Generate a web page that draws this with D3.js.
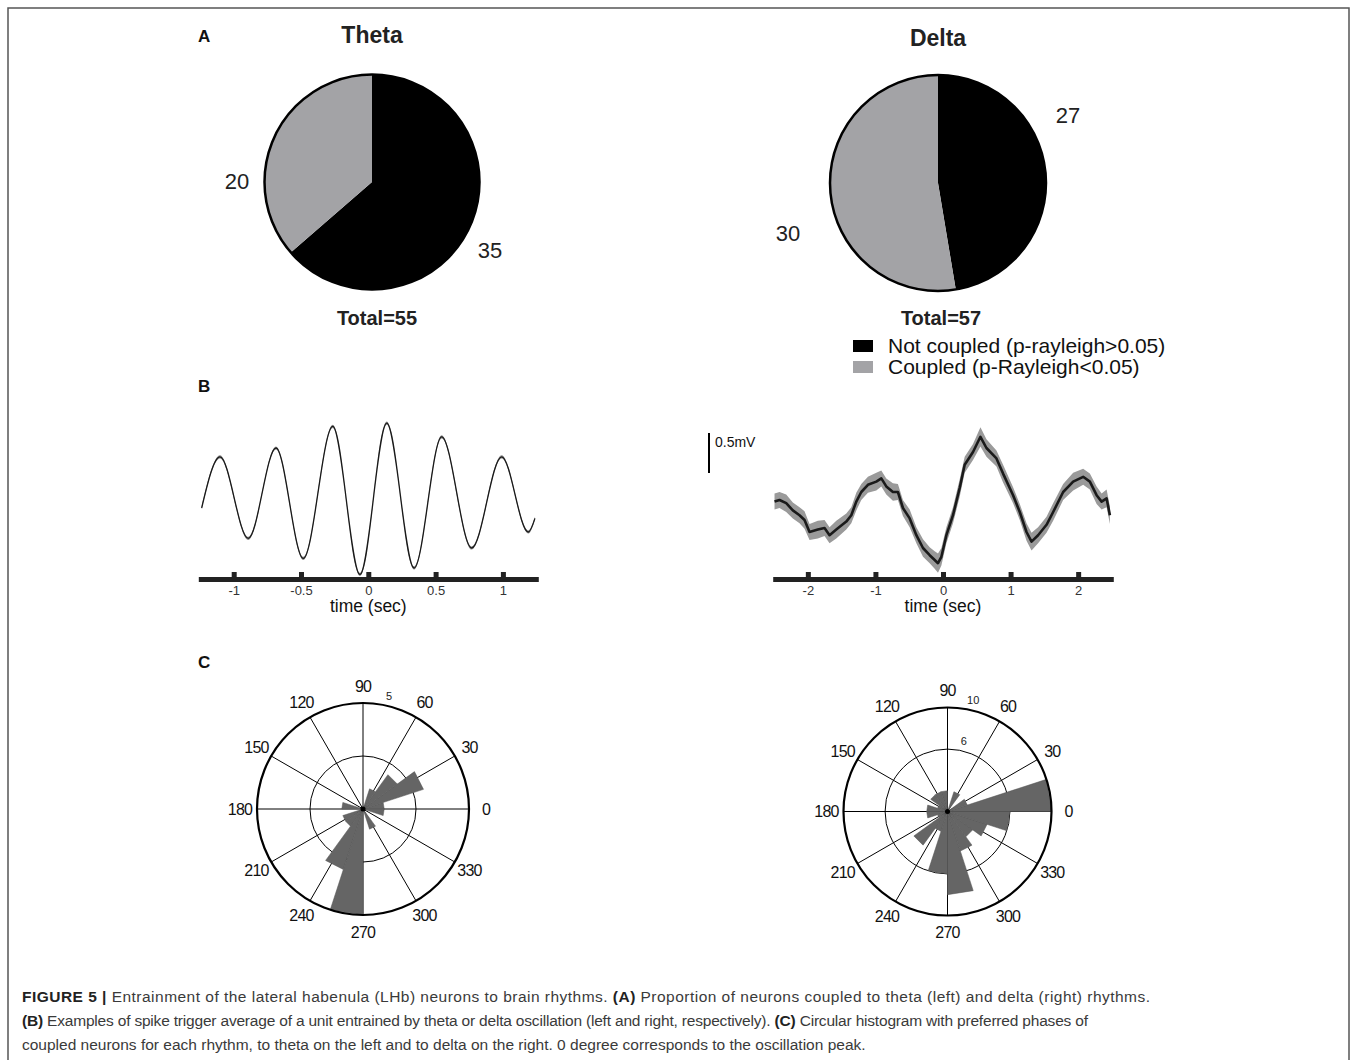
<!DOCTYPE html>
<html lang="en">
<head>
<meta charset="UTF-8">
<title>Figure 5 - LHb entrainment</title>
<style>
    body {
        margin: 0;
        padding: 0;
        background: #fff;
        font-family: "Liberation Sans", Arial, sans-serif;
    }
    .polar-label {
        font-size: 16px;
        letter-spacing: -0.8px;
        fill: #111;
    }
    .tick text {
        font-size: 13px;
        fill: #333;
    }
</style>
</head>
<body>
<svg id="fig" width="1357" height="1060"></svg>

<script src="https://d3js.org/d3.v7.min.js"></script>
<script>
// ---- data ----
const pieCategories = ["Not coupled (p-rayleigh>0.05)", "Coupled (p-Rayleigh<0.05)"];
const thetaCounts = [35, 20];
const deltaCounts = [27, 30];

// spike triggered averages (time in s, amplitude in mV)
const thetaTime = [-1.238, -1.102, -0.892, -0.686, -0.483, -0.264, -0.062, 0.137, 0.340, 0.545, 0.768, 0.991, 1.189, 1.238];
const thetaMv   = [0.00, 0.64, -0.38, 0.75, -0.63, 1.02, -0.83, 1.06, -0.75, 0.89, -0.50, 0.64, -0.30, -0.13];
const thetaSem  = [0.02, 0.02, 0.02, 0.02, 0.02, 0.02, 0.02, 0.02, 0.02, 0.02, 0.02, 0.02, 0.02, 0.02];

const deltaTime = [-2.493, -2.419, -2.320, -2.222, -2.123, -2.049, -1.975, -1.852, -1.753, -1.679, -1.579, -1.431,
                   -1.357, -1.283, -1.209, -1.111, -0.987, -0.913, -0.839, -0.741, -0.667, -0.593, -0.493, -0.394,
                   -0.296, -0.197, -0.123, -0.074, -0.024, 0.050, 0.148, 0.247, 0.321, 0.444, 0.554, 0.643, 0.791,
                   0.889, 1.037, 1.136, 1.236, 1.310, 1.407, 1.532, 1.630, 1.778, 1.926, 2.074, 2.173, 2.273, 2.347,
                   2.421, 2.470];
const deltaMv   = [-0.02, 0.00, -0.04, -0.13, -0.19, -0.25, -0.40, -0.37, -0.35, -0.44, -0.37, -0.27,
                   -0.19, -0.02, 0.10, 0.19, 0.23, 0.27, 0.17, 0.10, 0.10, -0.10, -0.23, -0.44,
                   -0.60, -0.69, -0.75, -0.79, -0.71, -0.44, -0.19, 0.15, 0.44, 0.60, 0.79, 0.65, 0.52,
                   0.33, 0.06, -0.15, -0.40, -0.52, -0.44, -0.31, -0.15, 0.10, 0.23, 0.29, 0.23, 0.06, -0.02,
                   0.02, -0.19];
const deltaSem  = [0.10, 0.10, 0.11, 0.10, 0.10, 0.11, 0.10, 0.11, 0.10, 0.10, 0.11, 0.10,
                   0.10, 0.11, 0.10, 0.10, 0.11, 0.10, 0.10, 0.11, 0.10, 0.10, 0.11, 0.10,
                   0.11, 0.10, 0.11, 0.12, 0.11, 0.10, 0.10, 0.11, 0.10, 0.10, 0.12, 0.11, 0.10,
                   0.11, 0.10, 0.10, 0.11, 0.11, 0.10, 0.10, 0.11, 0.10, 0.11, 0.10, 0.10, 0.11, 0.10,
                   0.11, 0.11];

const thetaTicks = [-1, -0.5, 0, 0.5, 1];
const thetaTickLabels = ["-1", "-0.5", "0", "0.5", "1"];
const deltaTicks = [-2, -1, 0, 1, 2];
const deltaTickLabels = ["-2", "-1", "0", "1", "2"];

// circular histograms, 20 bins of 18 degrees starting at 0
const roseEdges = d3.range(0, 361, 18);
const thetaRose = [1, 3, 2, 1, 0, 0, 0, 0, 0, 1, 0, 1, 1, 3, 5, 0, 1, 0, 0, 1];
const deltaRose = [10, 2, 0, 2, 0, 2, 2, 2, 1, 2, 2, 1, 4, 2, 6, 8, 4, 3, 4, 6];
const spokeAngles = [0, 30, 60, 90, 120, 150, 180, 210, 240, 270, 300, 330];
const spokeLabels = ["0", "30", "60", "90", "120", "150", "180", "210", "240", "270", "300", "330"];
const thetaRings = [2.5, 5];
const thetaRingLabels = ["", "5"];
const deltaRings = [6, 10];
const deltaRingLabels = ["6", "10"];

const captionLines = [
    [["FIGURE 5 | ", true], ["Entrainment of the lateral habenula (LHb) neurons to brain rhythms. ", false], ["(A)", true], [" Proportion of neurons coupled to theta (left) and delta (right) rhythms.", false]],
    [["(B)", true], [" Examples of spike trigger average of a unit entrained by theta or delta oscillation (left and right, respectively). ", false], ["(C)", true], [" Circular histogram with preferred phases of", false]],
    [["coupled neurons for each rhythm, to theta on the left and to delta on the right. 0 degree corresponds to the oscillation peak.", false]]
];
const captionWidths = [1128, 1066, null];

const pieColors = ["#000000", "#a3a3a6"];

const svg = d3.select("#fig");

// frame
svg.append("rect")
    .attr("x", 8).attr("y", 8)
    .attr("width", 1341).attr("height", 1080)
    .attr("fill", "none").attr("stroke", "#555").attr("stroke-width", 1.5);

// panel letters
[["A", 198, 42], ["B", 198, 392], ["C", 198, 668]].forEach(d => {
    svg.append("text").attr("x", d[1]).attr("y", d[2])
        .attr("font-size", 17).attr("font-weight", "bold").attr("fill", "#111")
        .text(d[0]);
});

// ---- A: pies ----
function drawPie(cx, cy, r, counts, title, titleY, labels, totalX) {
    const g = svg.append("g").attr("transform", `translate(${cx},${cy})`);
    const pie = d3.pie().sort(null).value(d => d);
    const arc = d3.arc().innerRadius(0).outerRadius(r);
    g.selectAll("path.slice")
        .data(pie(counts))
        .enter().append("path")
        .attr("class", "slice")
        .attr("d", arc)
        .attr("fill", (d, i) => pieColors[i]);
    g.append("circle").attr("r", r).attr("fill", "none")
        .attr("stroke", "#000").attr("stroke-width", 2.5);

    svg.append("text").attr("x", cx).attr("y", titleY)
        .attr("text-anchor", "middle").attr("font-size", 23).attr("font-weight", "bold").attr("fill", "#222")
        .text(title);

    labels.forEach((p, i) => {
        svg.append("text").attr("x", p[0]).attr("y", p[1])
            .attr("text-anchor", "middle").attr("font-size", 22).attr("fill", "#222")
            .text(counts[i]);
    });

    svg.append("text").attr("x", totalX).attr("y", 325)
        .attr("text-anchor", "middle").attr("font-size", 20).attr("font-weight", "bold").attr("fill", "#222")
        .text("Total=" + d3.sum(counts));
}

drawPie(372, 182, 107.5, thetaCounts, "Theta", 43, [[490, 258], [237, 189]], 377);
drawPie(938, 183, 108, deltaCounts, "Delta", 46, [[1068, 123], [788, 241]], 941);

// legend
const legend = svg.append("g").attr("transform", "translate(853,340)");
pieCategories.forEach((c, i) => {
    legend.append("rect").attr("x", 0).attr("y", i * 21).attr("width", 20).attr("height", 12)
        .attr("fill", pieColors[i]);
    legend.append("text").attr("x", 35).attr("y", i * 21 + 13)
        .attr("font-size", 21).attr("fill", "#111")
        .text(c);
});

// ---- B: traces ----
function drawTrace(times, mv, sem, domain, xRange, yZero, ticks, tickLabels, lineW, bandColor, curve) {
    const x = d3.scaleLinear().domain(domain).range(xRange);
    const y = d3.scaleLinear().domain([0, 1]).range([yZero, yZero - 80]);
    const pts = times.map((t, i) => ({t: t, v: mv[i], s: sem[i]}));

    const area = d3.area()
        .x(d => x(d.t))
        .y0(d => y(d.v - d.s))
        .y1(d => y(d.v + d.s))
        .curve(curve);
    const line = d3.line()
        .x(d => x(d.t))
        .y(d => y(d.v))
        .curve(curve);

    svg.append("path").datum(pts).attr("d", area).attr("fill", bandColor);
    svg.append("path").datum(pts).attr("d", line)
        .attr("fill", "none").attr("stroke", "#1a1a1a").attr("stroke-width", lineW)
        .attr("stroke-linejoin", "round");

    const axis = d3.axisBottom(x)
        .tickValues(ticks)
        .tickFormat((d, i) => tickLabels[i])
        .tickSizeInner(-7)
        .tickSizeOuter(0)
        .tickPadding(7);
    const ga = svg.append("g").attr("transform", "translate(0,579)").call(axis);
    ga.select(".domain").attr("stroke", "#222").attr("stroke-width", 5);
    ga.selectAll(".tick line").attr("stroke", "#222").attr("stroke-width", 5);
    ga.selectAll(".tick text").attr("font-family", "'Liberation Sans', Arial, sans-serif");

    svg.append("text").attr("x", x(0)).attr("y", 612)
        .attr("text-anchor", "middle").attr("font-size", 17.5).attr("fill", "#111")
        .text("time (sec)");
}

drawTrace(thetaTime, thetaMv, thetaSem, [-1.263, 1.263], [198.3, 538.3], 508,
    thetaTicks, thetaTickLabels, 1.3, "#8a8a8a", d3.curveMonotoneX);
drawTrace(deltaTime, deltaMv, deltaSem, [-2.52, 2.52], [772.7, 1113.3], 500,
    deltaTicks, deltaTickLabels, 2.6, "#9a9a9a", d3.curveLinear);

// scale bar
svg.append("line").attr("x1", 709).attr("x2", 709).attr("y1", 433).attr("y2", 473)
    .attr("stroke", "#000").attr("stroke-width", 2);
svg.append("text").attr("x", 715).attr("y", 447).attr("font-size", 14).attr("fill", "#111").text("0.5mV");

// ---- C: circular histograms ----
function drawRose(cx, cy, R, maxVal, counts, rings, ringLabels) {
    const g = svg.append("g").attr("transform", `translate(${cx},${cy})`);
    const r = d3.scaleLinear().domain([0, maxVal]).range([0, R]);
    const rad = deg => (90 - deg) * Math.PI / 180;   // math angle -> d3 radial angle

    g.append("circle").attr("r", R).attr("fill", "#fff");
    rings.forEach(v => {
        if (v < maxVal) g.append("circle").attr("r", r(v)).attr("fill", "none")
            .attr("stroke", "#000").attr("stroke-width", 1);
    });
    spokeAngles.forEach(a => {
        const p = d3.pointRadial(rad(a), R);
        g.append("line").attr("x1", 0).attr("y1", 0).attr("x2", p[0]).attr("y2", p[1])
            .attr("stroke", "#000").attr("stroke-width", 1);
    });

    const radial = d3.lineRadial()
        .angle(d => rad(d.a))
        .radius(d => r(d.v))
        .curve(d3.curveLinearClosed);
    const bins = counts.map((c, i) => ({c: c, a0: roseEdges[i], a1: roseEdges[i + 1]}))
        .filter(d => d.c > 0);
    g.selectAll("path.bar")
        .data(bins)
        .enter().append("path")
        .attr("class", "bar")
        .attr("d", d => radial([{a: d.a0, v: 0}, {a: d.a0, v: d.c}, {a: d.a1, v: d.c}]))
        .attr("fill", "#656565")
        .attr("stroke", "#555")
        .attr("stroke-width", 0.5);

    g.append("circle").attr("r", R).attr("fill", "none")
        .attr("stroke", "#000").attr("stroke-width", 2.2);
    g.append("circle").attr("r", 2.5).attr("fill", "#000");

    spokeAngles.forEach((a, i) => {
        const p = d3.pointRadial(rad(a), R + 17);
        g.append("text").attr("class", "polar-label")
            .attr("x", p[0]).attr("y", p[1])
            .attr("text-anchor", "middle").attr("dominant-baseline", "central")
            .text(spokeLabels[i]);
    });
    rings.forEach((v, i) => {
        if (!ringLabels[i]) return;
        const p = d3.pointRadial(rad(77), r(v) + 10);
        g.append("text").attr("x", p[0]).attr("y", p[1])
            .attr("text-anchor", "middle").attr("dominant-baseline", "central")
            .attr("font-size", 11).attr("fill", "#222")
            .text(ringLabels[i]);
    });
}

drawRose(363, 809, 106, 5, thetaRose, thetaRings, thetaRingLabels);
drawRose(947.5, 811.5, 104, 10, deltaRose, deltaRings, deltaRingLabels);

// ---- caption ----
captionLines.forEach((parts, i) => {
    const t = svg.append("text").attr("x", 22).attr("y", 1002 + i * 24)
        .attr("font-size", 15.5).attr("fill", "#3a3a3a");
    if (captionWidths[i]) t.attr("textLength", captionWidths[i]).attr("lengthAdjust", "spacing");
    parts.forEach(p => {
        t.append("tspan").attr("font-weight", p[1] ? "bold" : "normal")
            .attr("fill", p[1] ? "#222" : "#3a3a3a")
            .text(p[0]);
    });
});
</script>
</body>
</html>
